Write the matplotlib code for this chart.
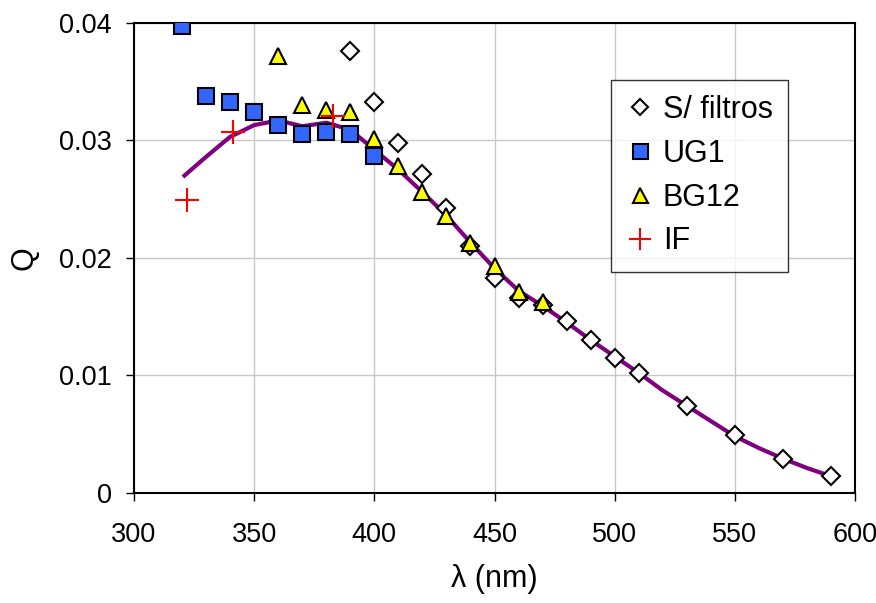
import matplotlib
matplotlib.use('Agg')
import matplotlib.pyplot as plt

plt.rcParams['font.family'] = ['Liberation Sans', 'DejaVu Sans']

# S/ filtros (open diamonds)
sf_x = [390, 400, 410, 420, 430, 440, 450, 460, 470, 480, 490, 500, 510, 530, 550, 570, 590]
sf_q = [0.0376, 0.0333, 0.0298, 0.0271, 0.0242, 0.0210, 0.0183, 0.0166, 0.0160,
        0.0146, 0.0130, 0.0115, 0.0102, 0.0074, 0.0049, 0.0029, 0.0014]

# UG1 (blue squares)
ug1_x = [320, 330, 340, 350, 360, 370, 380, 390, 400]
ug1_q = [0.0397, 0.0338, 0.0333, 0.0324, 0.0313, 0.0305, 0.0307, 0.0305, 0.0287]

# BG12 (yellow triangles)
bg12_x = [360, 370, 380, 390, 400, 410, 420, 430, 440, 450, 460, 470]
bg12_q = [0.0372, 0.0330, 0.0326, 0.0324, 0.0301, 0.0278, 0.0256, 0.0236,
          0.0213, 0.0193, 0.0171, 0.0162]

# IF (red crosses)
if_x = [322, 341, 383]
if_q = [0.0249, 0.0307, 0.0321]

# smooth curve
curve_x = [321, 330, 340, 350, 360, 370, 380, 390, 400, 410, 420, 430, 440, 450,
           460, 470, 480, 490, 500, 510, 520, 530, 540, 550, 560, 570, 580, 590]
curve_q = [0.0270, 0.0286, 0.0303, 0.0313, 0.0317, 0.0312, 0.0315, 0.0309, 0.0292,
           0.0275, 0.0256, 0.0236, 0.0213, 0.0191, 0.0172, 0.0159, 0.0145, 0.0130,
           0.0116, 0.0102, 0.0087, 0.0074, 0.0061, 0.0048, 0.0038, 0.0029, 0.0021,
           0.0014]

fig = plt.figure(figsize=(8.76, 6.03), dpi=100)
ax = fig.add_axes([0.153, 0.183, 0.823, 0.779])

ax.plot(curve_x, curve_q, color='#800080', lw=3, zorder=2)
ax.plot(sf_x, sf_q, 'D', ms=9, mfc='white', mec='black', mew=1.5,
        ls='none', label='S/ filtros', zorder=3)
ax.plot(ug1_x, ug1_q, 's', ms=12, mfc='#3366FF', mec='black', mew=1.5,
        ls='none', label='UG1', zorder=4)
ax.plot(bg12_x, bg12_q, '^', ms=12, mfc='#FFFF00', mec='black', mew=1.5,
        ls='none', label='BG12', zorder=5)
ax.plot(if_x, if_q, '+', ms=17, mec='red', mew=1.5,
        ls='none', label='IF', zorder=6)

ax.set_xlim(300, 600)
ax.set_ylim(0, 0.04)
ax.set_xticks([300, 350, 400, 450, 500, 550, 600])
ax.set_yticks([0, 0.01, 0.02, 0.03, 0.04])
ax.set_yticklabels(['0', '0.01', '0.02', '0.03', '0.04'])
ax.grid(True, color='#C8C8C8', lw=1)
ax.set_axisbelow(True)
for s in ax.spines.values():
    s.set_linewidth(1.5)
    s.set_color('black')
ax.tick_params(direction='out', length=6, width=1, labelsize=19.5)
ax.tick_params(axis='x', pad=15)
ax.tick_params(axis='y', pad=10)

ax.set_xlabel('λ (nm)', fontsize=22, labelpad=12)
ax.set_ylabel('Q', fontsize=22, labelpad=14)

leg = ax.legend(loc='upper right', bbox_to_anchor=(0.907, 0.879), borderaxespad=0,
                fontsize=22, frameon=True, fancybox=False, handlelength=0.9,
                handletextpad=0.3, labelspacing=0.45, borderpad=0.5,
                markerscale=0.9)
leg.get_frame().set_edgecolor('black')
leg.get_frame().set_linewidth(1)

fig.savefig('out.png', dpi=100)
